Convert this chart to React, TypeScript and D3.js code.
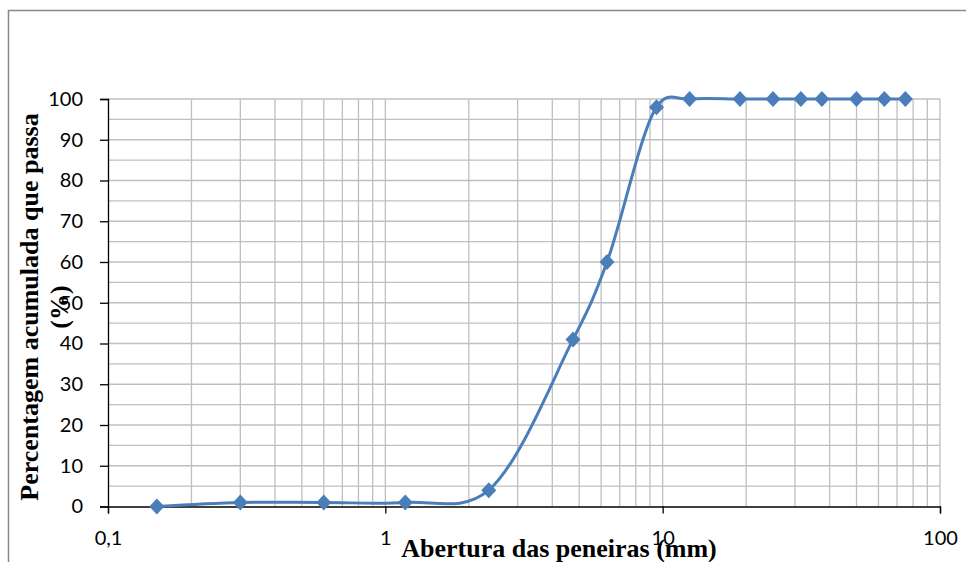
import React, { useRef, useEffect } from 'react';
import * as d3 from 'd3';

// peneiras (mm) e % acumulada que passa
const aberturas = [0.15, 0.3, 0.6, 1.18, 2.36, 4.75, 6.3, 9.5, 12.5, 19, 25, 31.5, 37.5, 50, 63, 75];
const passante = [0, 1, 1, 1, 4, 41, 60, 98, 100, 100, 100, 100, 100, 100, 100, 100];
const xTicks = [0.1, 1, 10, 100];
const xTickLabels = ['0,1', '1', '10', '100'];
const yTicks = [0, 10, 20, 30, 40, 50, 60, 70, 80, 90, 100];

const W = 966;
const H = 562;

const App: React.FC = () => {
  const svgRef = useRef<SVGSVGElement>(null);

  useEffect(() => {
    if (!svgRef.current) return;
    const svg = d3.select(svgRef.current);
    svg.selectAll('*').remove();

    const x = d3.scaleLog().domain([0.1, 100]).range([108, 940]);
    const y = d3.scaleLinear().domain([0, 100]).range([506.5, 99]);

    // moldura do gráfico
    svg.append('rect')
      .attr('x', 8.5).attr('y', 10.5)
      .attr('width', 1000).attr('height', 600)
      .attr('fill', 'white').attr('stroke', '#898989').attr('stroke-width', 1.5);

    // grade vertical (menores e maiores)
    const vGrid: number[] = [];
    for (let dec = 0.1; dec < 100; dec *= 10) {
      for (let k = 1; k <= 10; k++) vGrid.push(+(dec * k).toPrecision(3));
    }
    svg.append('g').selectAll('line')
      .data(Array.from(new Set(vGrid)).filter(v => v > 0.1))
      .enter().append('line')
      .attr('x1', d => x(d)).attr('x2', d => x(d))
      .attr('y1', y(0)).attr('y2', y(100))
      .attr('stroke', '#bfbfbf').attr('stroke-width', 1.3);

    // grade horizontal a cada 5%
    svg.append('g').selectAll('line')
      .data(d3.range(5, 101, 5))
      .enter().append('line')
      .attr('x1', x(0.1)).attr('x2', x(100))
      .attr('y1', d => y(d)).attr('y2', d => y(d))
      .attr('stroke', '#bfbfbf').attr('stroke-width', 1.3);

    // eixo y
    const yAxis = svg.append('g')
      .attr('transform', `translate(${x(0.1)},0)`)
      .call(d3.axisLeft(y).tickValues(yTicks).tickSize(8).tickPadding(17));
    yAxis.select('.domain').attr('stroke', 'black').attr('stroke-width', 1.3);
    yAxis.selectAll('.tick line').attr('stroke', 'black').attr('stroke-width', 1.3);
    yAxis.selectAll('text')
      .attr('font-family', 'Lato, "Liberation Sans", sans-serif')
      .attr('font-size', 20).attr('fill', 'black');

    // eixo x
    const xAxis = svg.append('g')
      .attr('transform', `translate(0,${y(0)})`)
      .call(d3.axisBottom(x).tickValues(xTicks)
        .tickFormat((d, i) => xTickLabels[i]).tickSize(7).tickPadding(17));
    xAxis.select('.domain').attr('stroke', 'black').attr('stroke-width', 1.3);
    xAxis.selectAll('.tick line').attr('stroke', 'black').attr('stroke-width', 1.3);
    xAxis.selectAll('text')
      .attr('font-family', 'Lato, "Liberation Sans", sans-serif')
      .attr('font-size', 20).attr('fill', 'black');

    // curva suavizada
    const pts: [number, number][] = aberturas.map((a, i) => [x(a), y(passante[i])]);
    svg.append('path')
      .datum(pts)
      .attr('fill', 'none')
      .attr('stroke', '#4a7ebb')
      .attr('stroke-width', 3)
      .attr('d', d3.line().curve(d3.curveCatmullRom.alpha(0.2))(pts));

    // marcadores em losango
    svg.append('g').selectAll('path')
      .data(pts)
      .enter().append('path')
      .attr('transform', d => `translate(${d[0]},${d[1]})`)
      .attr('d', 'M0,-8L7.5,0L0,8L-7.5,0Z')
      .attr('fill', '#4a7ebb');

    // títulos dos eixos
    svg.append('text')
      .attr('x', 559).attr('y', 557)
      .attr('text-anchor', 'middle')
      .attr('font-family', '"Liberation Serif", "Times New Roman", serif')
      .attr('font-weight', 'bold').attr('font-size', 26)
      .text('Abertura das peneiras (mm)');

    const yt = svg.append('text')
      .attr('transform', 'translate(38,307) rotate(-90)')
      .attr('text-anchor', 'middle')
      .attr('font-family', '"Liberation Serif", "Times New Roman", serif')
      .attr('font-weight', 'bold').attr('font-size', 26);
    yt.append('tspan').attr('x', 0).attr('y', 0).text('Percentagem acumulada que passa');
    yt.append('tspan').attr('x', 0).attr('y', 30).text('(%)');
  }, []);

  return <svg ref={svgRef} width={W} height={H} style={{ position: 'absolute', left: 0, top: 0 }} />;
};

export default App;
